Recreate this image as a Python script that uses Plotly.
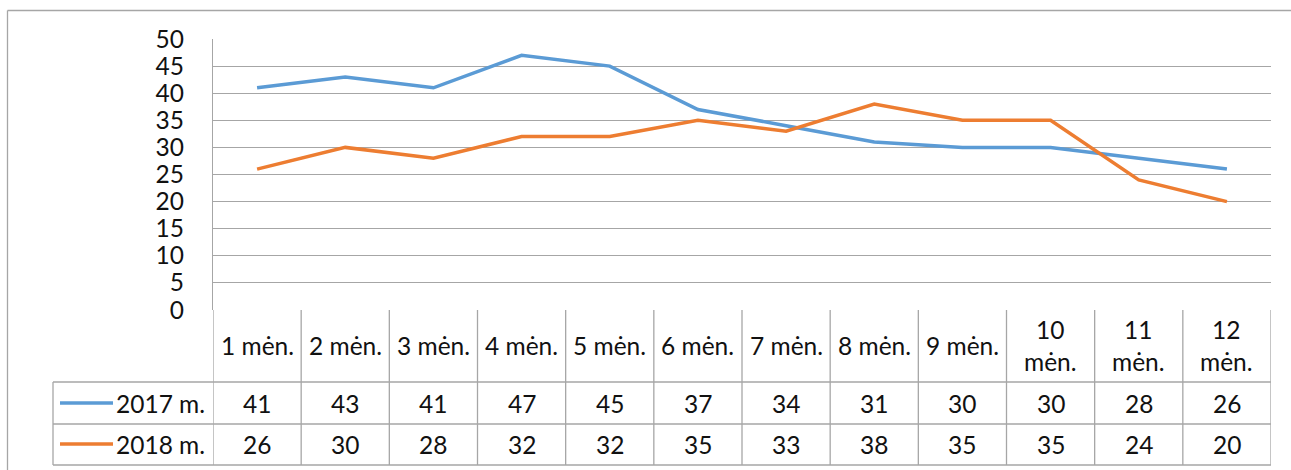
import plotly.graph_objects as go

months = ["1 mėn.", "2 mėn.", "3 mėn.", "4 mėn.", "5 mėn.", "6 mėn.",
          "7 mėn.", "8 mėn.", "9 mėn.", "10<br>mėn.", "11<br>mėn.", "12<br>mėn."]
series_names = ["2017 m.", "2018 m."]
values_2017 = [41, 43, 41, 47, 45, 37, 34, 31, 30, 30, 28, 26]
values_2018 = [26, 30, 28, 32, 32, 35, 33, 38, 35, 35, 24, 20]
y_ticks = [0, 5, 10, 15, 20, 25, 30, 35, 40, 45, 50]

colors = ["#5B9BD5", "#ED7D31"]
grid = "#A6A6A6"
txt = "#111111"
FONT = "Lato"
FS = 24.5

W, H = 1291, 470
L, R, T, B = 213, 1271, 39, 310
PW, PH = R - L, B - T


def py(p):  # pixel y -> paper y
    return (B - p) / PH


def px(p):  # pixel x -> paper x
    return (p - L) / PW


n = len(months)
xs = [i + 0.5 for i in range(n)]

fig = go.Figure()
for name, vals, c in zip(series_names, [values_2017, values_2018], colors):
    fig.add_trace(go.Scatter(x=xs, y=vals, mode="lines", name=name,
                             line=dict(color=c, width=3.5), showlegend=False,
                             hoverinfo="skip"))

shapes = []
ann = []
# outer chart frame (top and left edges visible)
shapes.append(dict(type="line", xref="paper", yref="paper", x0=px(7.5), x1=px(1291),
                   y0=py(10.5), y1=py(10.5), line=dict(color=grid, width=1.3)))
shapes.append(dict(type="line", xref="paper", yref="paper", x0=px(7.5), x1=px(7.5),
                   y0=py(10.5), y1=py(470), line=dict(color=grid, width=1.3)))

row_mid = [py(403), py(444)]
row_lines = [py(382), py(424), py(465)]
leg_left = px(53)

# header vertical lines
for i in range(n + 1):
    shapes.append(dict(type="line", xref="x", yref="paper", x0=i, x1=i,
                       y0=0, y1=row_lines[-1], line=dict(color=grid, width=1.3)))
# legend column left line
shapes.append(dict(type="line", xref="paper", yref="paper", x0=leg_left, x1=leg_left,
                   y0=row_lines[0], y1=row_lines[-1], line=dict(color=grid, width=1.3)))
# horizontal row lines
for yl in row_lines:
    shapes.append(dict(type="line", xref="paper", yref="paper", x0=leg_left, x1=1,
                       y0=yl, y1=yl, line=dict(color=grid, width=1.3)))

# header labels
for i, m in enumerate(months):
    ann.append(dict(x=xs[i], y=py(345), xref="x", yref="paper", text=m,
                    showarrow=False, font=dict(family=FONT, size=FS, color=txt),
                    xanchor="center", yanchor="middle"))

# rows
for r, (name, vals, c) in enumerate(zip(series_names, [values_2017, values_2018], colors)):
    shapes.append(dict(type="line", xref="paper", yref="paper", x0=px(60), x1=px(113),
                       y0=row_mid[r], y1=row_mid[r], line=dict(color=c, width=3.5)))
    ann.append(dict(x=px(207), y=row_mid[r], xref="paper", yref="paper", text=name,
                    showarrow=False, font=dict(family=FONT, size=FS, color=txt),
                    xanchor="right", yanchor="middle"))
    for i, v in enumerate(vals):
        ann.append(dict(x=xs[i], y=row_mid[r], xref="x", yref="paper", text=str(v),
                        showarrow=False, font=dict(family=FONT, size=FS, color=txt),
                        xanchor="center", yanchor="middle"))

fig.update_layout(
    width=W, height=H, autosize=False,
    margin=dict(l=L, r=W - R, t=T, b=H - B, pad=0),
    paper_bgcolor="white", plot_bgcolor="white",
    xaxis=dict(range=[0, n], showgrid=False, zeroline=False, showticklabels=False,
               showline=False, fixedrange=True),
    yaxis=dict(range=[0, 50], tickvals=y_ticks, showgrid=True, gridcolor=grid, gridwidth=1.3,
               zeroline=False, showline=True, linecolor=grid, linewidth=1.3,
               ticks="", ticklabelstandoff=23,
               tickfont=dict(family=FONT, size=FS, color=txt), fixedrange=True),
    shapes=shapes, annotations=ann,
)
fig.write_html("out.html", config={"displayModeBar": False},
               post_script="document.body.style.margin='0';document.body.style.overflow='hidden';")
